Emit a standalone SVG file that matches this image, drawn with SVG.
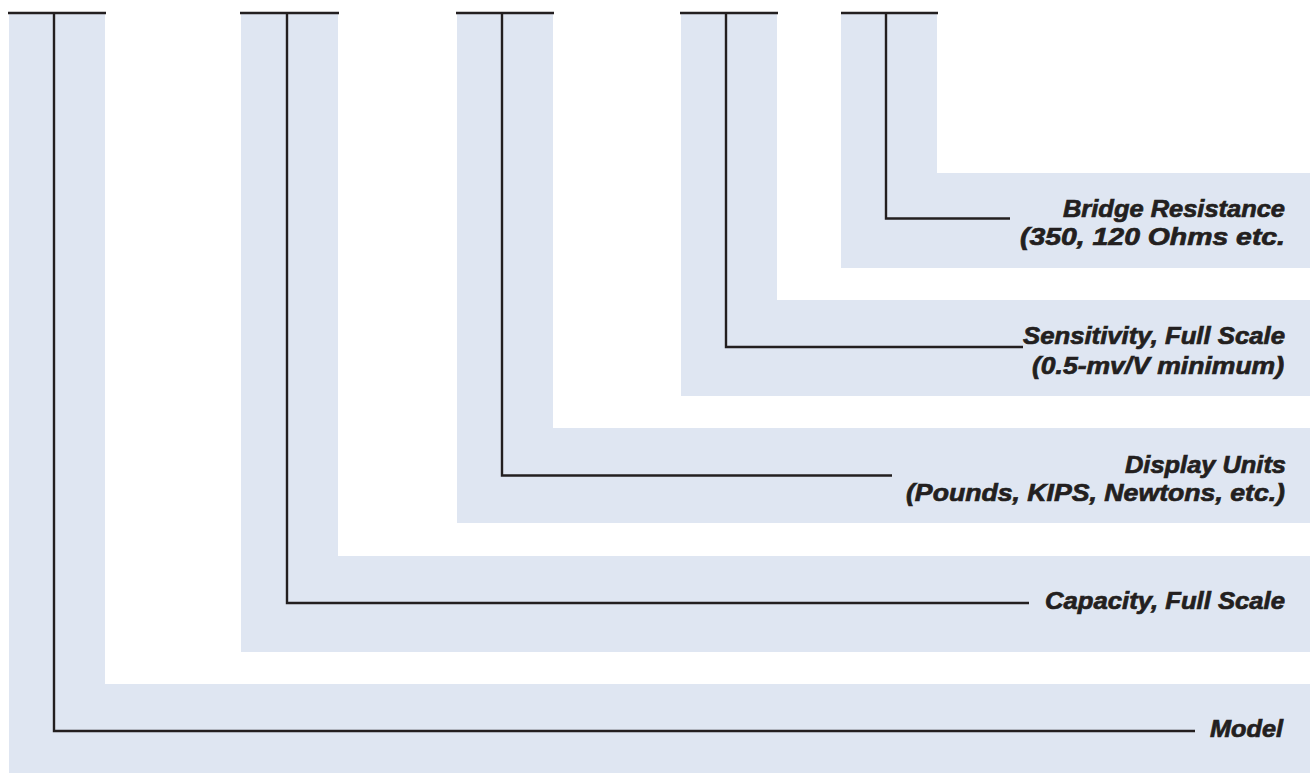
<svg xmlns="http://www.w3.org/2000/svg" width="1310" height="773" viewBox="0 0 1310 773">
<style>
.band{fill:#dfe6f2;stroke:none}
.ln{fill:none;stroke:#231f20;stroke-width:2.4;stroke-linecap:butt}
.lbl{font-family:"Liberation Sans",Arial,sans-serif;font-weight:bold;font-style:italic;font-size:24px;fill:#231f20;stroke:#231f20;stroke-width:0.7;text-anchor:end}
</style>
<rect width="1310" height="773" fill="#ffffff"/>
<g id="model">
<path class="band" d="M9,13 H105 V684 H1310 V773 H9 Z"/>
<text class="lbl" x="1283" y="737" textLength="73" lengthAdjust="spacingAndGlyphs">Model</text>
</g>
<g id="capacity">
<path class="band" d="M241,13 H338 V556 H1310 V652 H241 Z"/>
<text class="lbl" x="1285" y="609" textLength="240" lengthAdjust="spacingAndGlyphs">Capacity, Full Scale</text>
</g>
<g id="display-units">
<path class="band" d="M457,13 H553 V428 H1310 V523 H457 Z"/>
<text class="lbl" x="1286" y="473" textLength="161" lengthAdjust="spacingAndGlyphs">Display Units</text>
<text class="lbl" x="1285" y="501" textLength="379" lengthAdjust="spacingAndGlyphs">(Pounds, KIPS, Newtons, etc.)</text>
</g>
<g id="sensitivity">
<path class="band" d="M681,13 H777 V300 H1310 V396 H681 Z"/>
<text class="lbl" x="1285" y="344" textLength="262" lengthAdjust="spacingAndGlyphs">Sensitivity, Full Scale</text>
<text class="lbl" x="1284" y="374" textLength="252" lengthAdjust="spacingAndGlyphs">(0.5-mv/V minimum)</text>
</g>
<g id="bridge-resistance">
<path class="band" d="M841,13 H937 V173 H1310 V268 H841 Z"/>
<text class="lbl" x="1285" y="217" textLength="222" lengthAdjust="spacingAndGlyphs">Bridge Resistance</text>
<text class="lbl" x="1285" y="245" textLength="265" lengthAdjust="spacingAndGlyphs">(350, 120 Ohms etc.</text>
</g>
<g id="connectors">
<path class="ln" d="M8,13 H106 M54,13 V731 H1195"/>
<path class="ln" d="M240,13 H339 M287,13 V603 H1029"/>
<path class="ln" d="M456,13 H554 M502,13 V475.5 H892"/>
<path class="ln" d="M680,13 H778 M726,13 V347 H1023"/>
<path class="ln" d="M841,13 H938 M886,13 V218.5 H1010"/>
</g>
</svg>
